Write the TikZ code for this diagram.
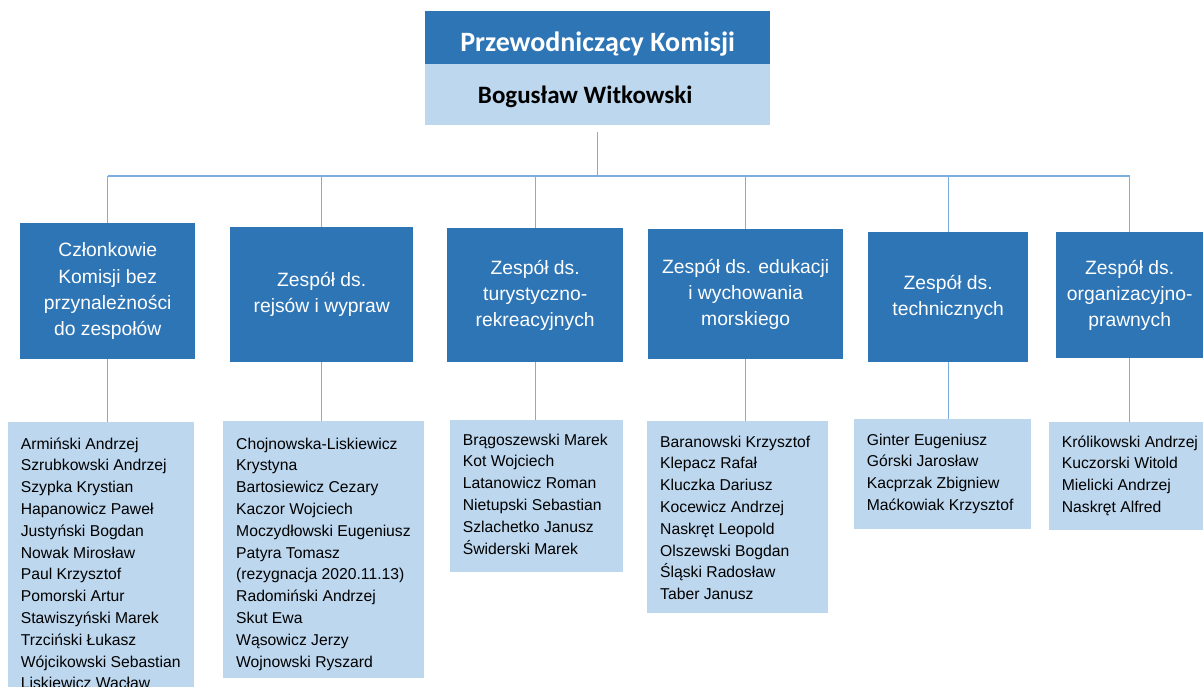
\documentclass[tikz,border=0pt]{standalone}
\usepackage{fontspec}
\setmainfont{Liberation Sans}
\newfontfamily\headfont{Carlito}
\usetikzlibrary{positioning}
\definecolor{teamblue}{HTML}{2E75B6}
\definecolor{listblue}{HTML}{BDD7EE}
\definecolor{linkblue}{HTML}{7DAEE0}
\begin{document}
\begin{tikzpicture}[x=1pt,y=-1pt]
      \tikzstyle{chairhead}=[fill=teamblue,text=white,anchor=north west,inner sep=0pt,
        font=\headfont\bfseries\fontsize{28}{30}\selectfont,text height=28.4pt,text depth=0pt]
      \tikzstyle{chairname}=[fill=listblue,anchor=north west,inner sep=0pt,
        font=\headfont\bfseries\fontsize{25}{28}\selectfont,text height=17pt,text depth=0pt]
      \tikzstyle{team}=[fill=teamblue,text=white,anchor=north west,inner sep=0pt,align=center,
        font=\fontsize{19.3}{26.3}\selectfont]
      \tikzstyle{members}=[fill=listblue,anchor=north west,inner sep=0pt]
      \tikzstyle{names}=[anchor=north west,inner sep=0pt,align=left,
        font=\fontsize{15.7}{21.8}\selectfont]
      \tikzstyle{link}=[draw,linkblue,line width=1.2pt]
      \useasboundingbox (0,0) rectangle (1203,686);
      \clip (0,0) rectangle (1203,686);
      % chairman
      \node[chairhead,minimum width=345pt,minimum height=53pt] (head) at (425,11) {Przewodniczący Komisji};
      \node[chairname,minimum width=345pt,minimum height=61pt] (name) at (425,64)
        {Bogusław Witkowski\hspace*{25pt}};
      % teams
      \node[team,minimum width=175pt,minimum height=136pt] (t1) at (20,223)
        {Członkowie\\Komisji bez\\przynależności\\do zespołów};
      \node[team,minimum width=183pt,minimum height=135pt] (t2) at (230,227)
        {Zespół ds.\\rejsów i wypraw};
      \node[team,minimum width=176pt,minimum height=134pt] (t3) at (447,228)
        {Zespół ds.\\turystyczno-\\rekreacyjnych};
      \node[team,minimum width=195pt,minimum height=130pt] (t4) at (648,229)
        {Zespół ds. edukacji\\i wychowania\\morskiego};
      \node[team,minimum width=160pt,minimum height=130pt] (t5) at (868,232)
        {Zespół ds.\\technicznych};
      \node[team,minimum width=147pt,minimum height=126pt] (t6) at (1056,232)
        {Zespół ds.\\organizacyjno-\\prawnych};
      % member lists
      \node[members,minimum width=186pt,minimum height=280pt] (m1) at (8,422) {};
      \node[members,minimum width=201pt,minimum height=257pt] (m2) at (223,421) {};
      \node[members,minimum width=173pt,minimum height=152pt] (m3) at (450,420) {};
      \node[members,minimum width=181pt,minimum height=192pt] (m4) at (647,421) {};
      \node[members,minimum width=177pt,minimum height=110pt] (m5) at (854,419) {};
      \node[members,minimum width=160pt,minimum height=108pt] (m6) at (1049,422) {};
      \node[names] (n1) at ([shift={(12.7pt,-11.7pt)}]m1.north west)
        {\strut Armiński Andrzej\\Szrubkowski Andrzej\\Szypka Krystian\\Hapanowicz Paweł\\Justyński Bogdan\\
         Nowak Mirosław\\Paul Krzysztof\\Pomorski Artur\\Stawiszyński Marek\\Trzciński Łukasz\\
         Wójcikowski Sebastian\\Liskiewicz Wacław};
      \node[names] (n2) at ([shift={(13pt,-12.7pt)}]m2.north west)
        {\strut Chojnowska-Liskiewicz\\Krystyna\\Bartosiewicz Cezary\\Kaczor Wojciech\\Moczydłowski Eugeniusz\\
         Patyra Tomasz\\(rezygnacja 2020.11.13)\\Radomiński Andrzej\\Skut Ewa\\Wąsowicz Jerzy\\Wojnowski Ryszard};
      \node[names] (n3) at ([shift={(12.7pt,-9.7pt)}]m3.north west)
        {\strut Brągoszewski Marek\\Kot Wojciech\\Latanowicz Roman\\Nietupski Sebastian\\Szlachetko Janusz\\
         Świderski Marek};
      \node[names] (n4) at ([shift={(13pt,-10.7pt)}]m4.north west)
        {\strut Baranowski Krzysztof\\Klepacz Rafał\\Kluczka Dariusz\\Kocewicz Andrzej\\Naskręt Leopold\\
         Olszewski Bogdan\\Śląski Radosław\\Taber Janusz};
      \node[names] (n5) at ([shift={(12.7pt,-10.7pt)}]m5.north west)
        {\strut Ginter Eugeniusz\\Górski Jarosław\\Kacprzak Zbigniew\\Maćkowiak Krzysztof};
      \node[names] (n6) at ([shift={(12.7pt,-9.7pt)}]m6.north west)
        {\strut Królikowski Andrzej\\Kuczorski Witold\\Mielicki Andrzej\\Naskręt Alfred};
      % connectors
      \coordinate (bus) at (600,176);
      \path[link] ([yshift=-7pt]name.south) -- (name.south |- bus);
      \path[link] (t1.north |- bus) -- (t6.north |- bus);
      \foreach \i in {1,...,6} {
        \path[link] (t\i.north |- bus) -- (t\i.north);
        \path[link] (t\i.south) -- (t\i.south |- m\i.north);
      }
    \end{tikzpicture}
\end{document}
